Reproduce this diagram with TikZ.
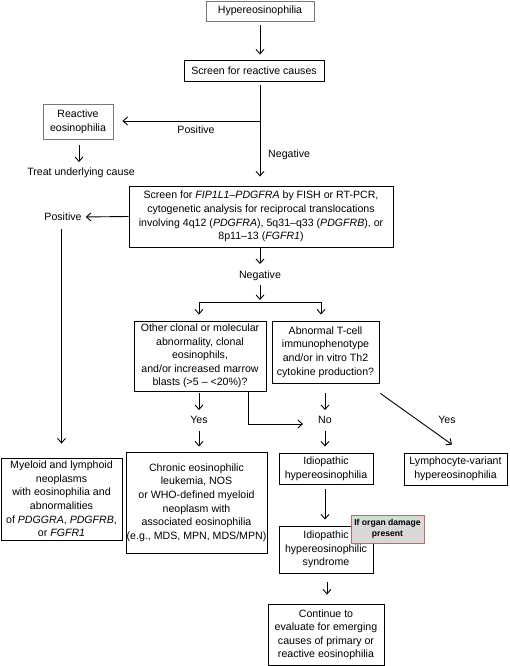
\documentclass[tikz,border=0pt]{standalone}
\usepackage{fontspec}
\setmainfont{Liberation Sans}
\usetikzlibrary{arrows.meta,calc}
\definecolor{greyline}{RGB}{120,120,120}
\definecolor{organfill}{RGB}{216,216,216}
\definecolor{organline}{RGB}{200,100,100}
\begin{document}
\begin{tikzpicture}[x=1pt,y=-1pt,
  every node/.style={font=\fontsize{10.6}{13.6}\selectfont, align=center, inner sep=0pt},
  bx/.style={draw=black, line width=0.9pt},
  gbx/.style={draw=greyline, line width=0.9pt},
  lbl/.style={text height=7.5pt, text depth=0pt},
  arr/.style={-{Straight Barb[length=4.5pt,width=8pt]}, line width=0.9pt},
  ln/.style={line width=0.9pt}]
\useasboundingbox (0,0) rectangle (510,666);

% boxes
\node[gbx, minimum width=108pt, minimum height=20pt] (hyp) at (260,11) {Hypereosinophilia};
\node[bx, minimum width=140pt, minimum height=21pt] (scr) at (254,70.5) {Screen for reactive causes};
\node[gbx, minimum width=70pt, minimum height=35pt] (react) at (78,121.5) {Reactive\\eosinophilia};
\node[lbl] (treat) at (81,172) {Treat underlying cause};
\node[bx, minimum width=264pt, minimum height=61pt] (fip) at (261,216.5)
  {Screen for \textit{FIP1L1--PDGFRA} by FISH or RT-PCR,\\
   cytogenetic analysis for reciprocal translocations\\
   involving 4q12 (\textit{PDGFRA}), 5q31--q33 (\textit{PDGFRB}), or\\
   8p11--13 (\textit{FGFR1})};
\node[bx, minimum width=132pt, minimum height=70pt] (other) at (200,356)
  {Other clonal or molecular\\abnormality, clonal\\eosinophils,\\and/or increased marrow\\blasts (>5 -- <20\%)?};
\node[bx, minimum width=107pt, minimum height=62pt] (tcell) at (325.5,352)
  {Abnormal T-cell\\immunophenotype\\and/or in vitro Th2\\cytokine production?};
\node[bx, minimum width=121pt, minimum height=82pt] (myel) at (61.5,499)
  {Myeloid and lymphoid\\neoplasms\\with eosinophilia and\\abnormalities\\of \textit{PDGGRA}, \textit{PDGFRB},\\or \textit{FGFR1}};
\node[bx, minimum width=141pt, minimum height=101pt] (cel) at (196.5,502.5)
  {Chronic eosinophilic\\leukemia, NOS\\or WHO-defined myeloid\\neoplasm with\\associated eosinophilia\\(e.g., MDS, MPN, MDS/MPN)};
\node[bx, minimum width=94pt, minimum height=31pt] (idh) at (326,468.5) {Idiopathic\\hypereosinophilia};
\node[bx, minimum width=103pt, minimum height=32pt] (lym) at (455.5,469) {Lymphocyte-variant\\hypereosinophilia};
\node[bx, minimum width=94pt, minimum height=47pt] (ihes) at (326,549.5) {Idiopathic\\hypereosinophilic\\syndrome};
\node[draw=organline, fill=organfill, line width=0.9pt, minimum width=73pt, minimum height=28pt,
  font=\fontsize{8.6}{11}\selectfont\bfseries] (organ) at (387.5,529) {If organ damage\\present};
\node[bx, minimum width=116pt, minimum height=61.5pt] (cont) at (326,634.75)
  {Continue to\\evaluate for emerging\\causes of primary or\\reactive eosinophilia};

% labels
\node[lbl] (pos1) at (196,130) {Positive};
\node[lbl, anchor=west] (neg1) at (268,154) {Negative};
\node[lbl] (pos2) at (63,217) {Positive};
\node[lbl] (neg2) at (260,275) {Negative};
\node[lbl] (yes1) at (199,420) {Yes};
\node[lbl] (no) at (325,420) {No};
\node[lbl] (yes2) at (447,420) {Yes};

% connectors
\draw[arr, shorten <=4pt, shorten >=5pt] (hyp.south) -- (hyp.south |- scr.north);
\coordinate (j1) at (260,121);
\draw[arr, shorten <=4pt, shorten >=9pt] (scr.south -| j1) -- (fip.north -| j1);
\draw[arr, shorten >=9pt] (j1) -- (j1 -| react.east);
\draw[arr, shorten <=6pt, shorten >=6pt] ($(react.south)+(1,0)$) -- ($(treat.north)+(-2,0)$);

\draw[arr, shorten >=4pt] (fip.west) -- (pos2.east);
\draw[arr, shorten <=8pt, shorten >=14pt] (pos2.south -| myel.north) -- (myel.north);

\draw[arr, shorten >=7pt] (fip.south -| neg2) -- (neg2.north);
\coordinate (split) at (260,302);
\coordinate (sl) at (199,302);
\coordinate (sr) at (321,302);
\draw[arr, shorten <=6pt, shorten >=2pt] (neg2.south) -- (split);
\draw[ln] (sl) -- (sr);
\draw[arr, shorten >=6pt] (sl) -- (sl |- other.north);
\draw[arr, shorten >=6pt] (sr) -- (sr |- tcell.north);

\draw[arr, shorten <=2pt, shorten >=6pt] (other.south -| yes1) -- (yes1.north);
\draw[arr, shorten <=7pt, shorten >=5pt] (yes1.south) -- (yes1.south |- cel.north);
\draw[arr, shorten >=15pt] ($(other.south)+(48,0)$) |- ($(no.west)+(0,4)$);
\draw[arr, shorten <=10pt, shorten >=6pt] (tcell.south -| no) -- (no.north);
\draw[arr, shorten <=7pt, shorten >=6pt] (no.south) -- (no.south |- idh.north);
\draw[arr] ($(tcell.south east)+(1,10)$) -- ($(lym.north)+(-3.5,-8)$);

\draw[arr, shorten <=5pt, shorten >=6pt] ($(idh.south)+(-1,0)$) -- ($(ihes.north)+(-1,0)$);
\draw[arr, shorten <=9pt, shorten >=9pt] ($(ihes.south)+(1,0)$) -- ($(cont.north)+(1,0)$);
\end{tikzpicture}
\end{document}
